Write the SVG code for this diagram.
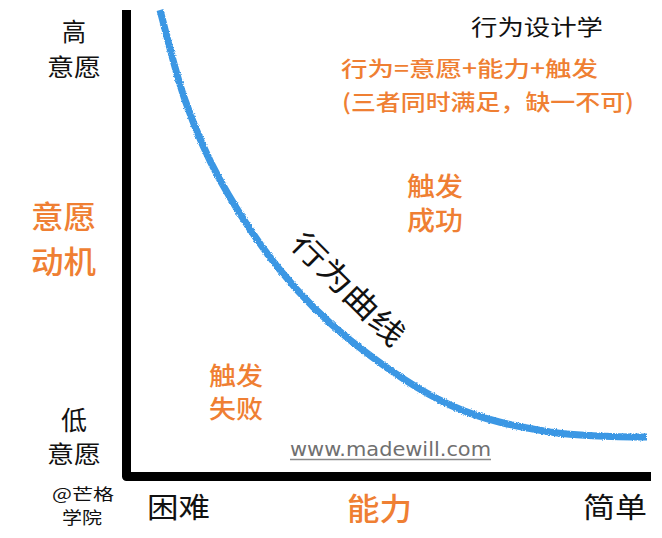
<svg xmlns="http://www.w3.org/2000/svg" width="662" height="538" viewBox="0 0 662 538">
  <style>
    text { font-family: "Noto Sans CJK SC", "Noto Sans", sans-serif; }
    .blk { fill: #111111; }
    .org { fill: #ef7f33; font-weight: 500; }
    .url { font-family: "DejaVu Sans", sans-serif; fill: #707070; font-size: 20px; }
  </style>
  <defs>
    <filter id="rough" x="-5%" y="-5%" width="110%" height="110%">
      <feTurbulence type="fractalNoise" baseFrequency="0.9" numOctaves="2" seed="3" result="n"/>
      <feDisplacementMap in="SourceGraphic" in2="n" scale="3" xChannelSelector="R" yChannelSelector="G"/>
    </filter>
  </defs>
  <rect width="662" height="538" fill="#ffffff"/>

  <g id="axes">
    <path d="M126.5,10 V476.5 H651" fill="none" stroke="#000" stroke-width="9" stroke-linejoin="round"/>
  </g>

  <g id="curve">
    <path d="M160,10 C164.2,25 175,71.7 185,100 C195,128.3 204.2,151.7 220,180 C235.8,208.3 258.3,243.3 280,270 C301.7,296.7 321.7,317.5 350,340 C378.3,362.5 416.7,389.7 450,405 C483.3,420.3 517.2,426.7 550,432 C582.8,436.5 630,437 647,437" fill="none" stroke="#3a97e4" stroke-width="7" filter="url(#rough)"/>
  </g>

  <g id="y-axis-labels">
    <text class="blk" x="62" y="41" font-size="25" textLength="24" lengthAdjust="spacingAndGlyphs">高</text>
    <text class="blk" x="47" y="75.5" font-size="24" textLength="54" lengthAdjust="spacingAndGlyphs">意愿</text>
    <text class="org" x="31" y="228" font-size="31" textLength="65" lengthAdjust="spacingAndGlyphs">意愿</text>
    <text class="org" x="31" y="273" font-size="31" textLength="65" lengthAdjust="spacingAndGlyphs">动机</text>
    <text class="blk" x="61" y="430" font-size="26" textLength="26" lengthAdjust="spacingAndGlyphs">低</text>
    <text class="blk" x="47" y="463" font-size="24" textLength="54" lengthAdjust="spacingAndGlyphs">意愿</text>
  </g>

  <g id="credit">
    <text class="blk" x="52" y="500" font-size="16" textLength="62" lengthAdjust="spacingAndGlyphs">@芒格</text>
    <text class="blk" x="62" y="524" font-size="17" textLength="40" lengthAdjust="spacingAndGlyphs">学院</text>
  </g>

  <g id="x-axis-labels">
    <text class="blk" x="147" y="518" font-size="28" textLength="63" lengthAdjust="spacingAndGlyphs">困难</text>
    <text class="org" x="347" y="520" font-size="31" textLength="65" lengthAdjust="spacingAndGlyphs">能力</text>
    <text class="blk" x="583" y="518" font-size="28" textLength="64" lengthAdjust="spacingAndGlyphs">简单</text>
  </g>

  <g id="title">
    <text class="blk" x="471" y="35" font-size="22" textLength="132" lengthAdjust="spacingAndGlyphs">行为设计学</text>
    <text class="org" x="341" y="76" font-size="21" textLength="257" lengthAdjust="spacingAndGlyphs">行为=意愿+能力+触发</text>
    <text class="org" x="342" y="110" font-size="22" textLength="292" lengthAdjust="spacingAndGlyphs">(三者同时满足，缺一不可)</text>
  </g>

  <g id="success">
    <text class="org" x="407" y="196" font-size="26" textLength="56" lengthAdjust="spacingAndGlyphs">触发</text>
    <text class="org" x="407" y="230" font-size="26" textLength="56" lengthAdjust="spacingAndGlyphs">成功</text>
  </g>

  <g id="failure">
    <text class="org" x="209" y="385" font-size="25" textLength="54" lengthAdjust="spacingAndGlyphs">触发</text>
    <text class="org" x="209" y="418" font-size="25" textLength="54" lengthAdjust="spacingAndGlyphs">失败</text>
  </g>

  <g id="curve-label" transform="translate(348.5,289) rotate(45)">
    <text class="blk" x="-73" y="11" font-size="30" textLength="146" lengthAdjust="spacingAndGlyphs">行为曲线</text>
  </g>

  <g id="watermark">
    <text class="url" x="290" y="456" textLength="201" lengthAdjust="spacingAndGlyphs">www.madewill.com</text>
    <line x1="290" y1="459.5" x2="491" y2="459.5" stroke="#8a8a8a" stroke-width="1.5"/>
  </g>
</svg>
